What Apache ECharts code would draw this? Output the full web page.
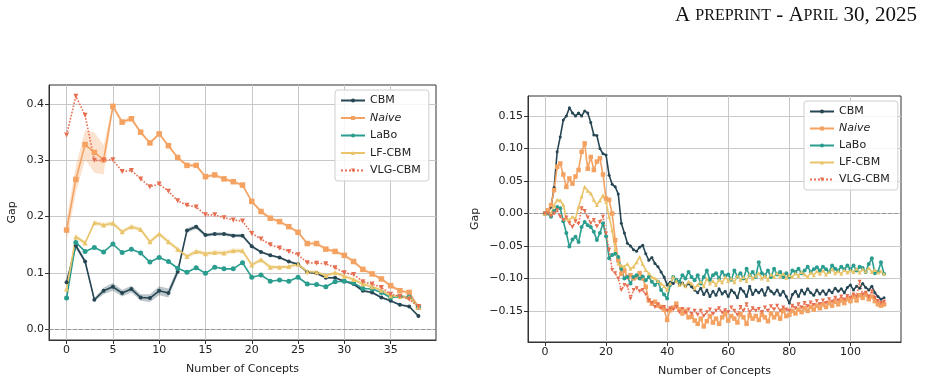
<!DOCTYPE html>
<html>
<head>
<meta charset="utf-8">
<script src="https://cdn.jsdelivr.net/npm/echarts@6/dist/echarts.min.js"></script>
<style>
html, body { margin: 0; padding: 0; background: #fff; }
#chart { width: 929px; height: 384px; }
</style>
</head>
<body>
<div id="chart"></div>
<script>
// ---- left panel: gap vs number of concepts (0..38) ----
var leftConcepts = Array.from({length: 39}, function (_, i) { return i; });
var leftCBM = [0.083, 0.148, 0.120, 0.052, 0.068, 0.075, 0.064, 0.071, 0.056, 0.055,
  0.068, 0.064, 0.102, 0.175, 0.182, 0.167, 0.169, 0.169, 0.166, 0.166,
  0.147, 0.137, 0.131, 0.127, 0.120, 0.115, 0.101, 0.099, 0.091, 0.091,
  0.085, 0.080, 0.068, 0.065, 0.056, 0.050, 0.043, 0.040, 0.023];
var leftNaive = [0.176, 0.266, 0.328, 0.314, 0.301, 0.396, 0.368, 0.374, 0.350, 0.331,
  0.347, 0.326, 0.305, 0.291, 0.291, 0.271, 0.274, 0.267, 0.262, 0.256,
  0.227, 0.209, 0.197, 0.191, 0.182, 0.172, 0.152, 0.152, 0.142, 0.138,
  0.131, 0.120, 0.106, 0.098, 0.089, 0.077, 0.068, 0.065, 0.039];
var leftLaBo = [0.055, 0.154, 0.138, 0.145, 0.137, 0.151, 0.136, 0.142, 0.135, 0.119,
  0.127, 0.120, 0.108, 0.101, 0.109, 0.099, 0.110, 0.107, 0.107, 0.118,
  0.092, 0.096, 0.085, 0.087, 0.085, 0.092, 0.080, 0.079, 0.075, 0.084,
  0.085, 0.082, 0.072, 0.071, 0.065, 0.056, 0.058, 0.057, 0.039];
var leftLFCBM = [0.071, 0.164, 0.153, 0.189, 0.185, 0.188, 0.173, 0.182, 0.177, 0.155,
  0.169, 0.155, 0.142, 0.129, 0.138, 0.134, 0.136, 0.135, 0.139, 0.139,
  0.114, 0.123, 0.110, 0.110, 0.111, 0.115, 0.102, 0.101, 0.095, 0.100,
  0.094, 0.088, 0.080, 0.075, 0.069, 0.059, 0.058, 0.056, 0.040];
var leftVLG = [0.345, 0.414, 0.380, 0.300, 0.300, 0.301, 0.280, 0.282, 0.267, 0.253,
  0.258, 0.245, 0.228, 0.220, 0.217, 0.203, 0.203, 0.198, 0.194, 0.192,
  0.170, 0.160, 0.150, 0.144, 0.138, 0.132, 0.118, 0.117, 0.116, 0.109,
  0.100, 0.097, 0.084, 0.080, 0.074, 0.062, 0.058, 0.053, 0.040];
// spread of the shaded bands
var leftCBMSd = [0.002, 0.005, 0.004, 0.003, 0.006, 0.007, 0.006, 0.006, 0.006, 0.007,
  0.008, 0.008, 0.006, 0.004, 0.004, 0.003, 0.003, 0.003, 0.003, 0.003,
  0.003, 0.002, 0.002, 0.002, 0.002, 0.002, 0.002, 0.002, 0.002, 0.002,
  0.002, 0.002, 0.002, 0.002, 0.002, 0.002, 0.002, 0.002, 0.002];
var leftNaiveSd = [0.020, 0.024, 0.026, 0.036, 0.026, 0.005, 0.004, 0.004, 0.003, 0.003,
  0.003, 0.003, 0.003, 0.003, 0.003, 0.003, 0.003, 0.003, 0.003, 0.003,
  0.003, 0.003, 0.003, 0.003, 0.003, 0.003, 0.003, 0.003, 0.003, 0.003,
  0.003, 0.003, 0.003, 0.003, 0.003, 0.003, 0.003, 0.003, 0.003];
var leftLFCBMSd = [0.004, 0.004, 0.004, 0.004, 0.004, 0.004, 0.004, 0.004, 0.004, 0.004,
  0.004, 0.004, 0.004, 0.004, 0.004, 0.004, 0.004, 0.004, 0.004, 0.004,
  0.004, 0.004, 0.004, 0.003, 0.003, 0.003, 0.003, 0.003, 0.003, 0.003,
  0.003, 0.003, 0.003, 0.003, 0.003, 0.003, 0.003, 0.003, 0.003];
var leftXTicks = [0, 5, 10, 15, 20, 25, 30, 35];
var leftYTicks = [0, 0.1, 0.2, 0.3, 0.4];

// ---- right panel: gap vs number of concepts (0..111) ----
var rightConcepts = Array.from({length: 112}, function (_, i) { return i; });
var rightCBM = [0.000, 0.002, 0.010, 0.040, 0.095, 0.118, 0.144, 0.150, 0.163, 0.155,
  0.150, 0.155, 0.150, 0.158, 0.155, 0.140, 0.121, 0.120, 0.100, 0.092,
  0.090, 0.059, 0.045, 0.041, 0.030, -0.015, -0.030, -0.046, -0.050, -0.056,
  -0.058, -0.052, -0.049, -0.062, -0.072, -0.068, -0.077, -0.082, -0.090, -0.098,
  -0.110, -0.106, -0.108, -0.103, -0.110, -0.107, -0.112, -0.108, -0.113, -0.118,
  -0.122, -0.115, -0.125, -0.118, -0.128, -0.120, -0.126, -0.116, -0.124, -0.120,
  -0.128, -0.118, -0.122, -0.130, -0.115, -0.120, -0.128, -0.112, -0.125, -0.118,
  -0.122, -0.117, -0.126, -0.114, -0.120, -0.124, -0.118, -0.126, -0.120, -0.128,
  -0.138, -0.125, -0.120, -0.128, -0.118, -0.124, -0.116, -0.122, -0.126, -0.118,
  -0.124, -0.119, -0.125, -0.118, -0.122, -0.115, -0.120, -0.116, -0.122, -0.114,
  -0.110, -0.118, -0.112, -0.115, -0.108, -0.114, -0.118, -0.112, -0.122, -0.128,
  -0.132, -0.130];
var rightNaive = [0.000, 0.005, 0.013, 0.036, 0.072, 0.077, 0.060, 0.041, 0.054, 0.046,
  0.057, 0.067, 0.095, 0.108, 0.069, 0.087, 0.067, 0.080, 0.085, 0.060,
  0.023, 0.021, 0.000, -0.041, -0.072, -0.093, -0.088, -0.098, -0.095, -0.100,
  -0.098, -0.092, -0.100, -0.113, -0.134, -0.139, -0.136, -0.142, -0.144, -0.148,
  -0.164, -0.149, -0.145, -0.139, -0.148, -0.154, -0.150, -0.160, -0.159, -0.165,
  -0.170, -0.162, -0.174, -0.166, -0.158, -0.168, -0.162, -0.170, -0.160, -0.155,
  -0.165, -0.158, -0.162, -0.168, -0.155, -0.160, -0.170, -0.157, -0.162, -0.158,
  -0.164, -0.156, -0.160, -0.166, -0.154, -0.160, -0.155, -0.162, -0.150, -0.158,
  -0.156, -0.150, -0.154, -0.148, -0.152, -0.146, -0.150, -0.144, -0.148, -0.142,
  -0.146, -0.140, -0.144, -0.138, -0.142, -0.136, -0.140, -0.134, -0.138, -0.132,
  -0.135, -0.128, -0.134, -0.126, -0.130, -0.125, -0.132, -0.128, -0.135, -0.140,
  -0.142, -0.140];
var rightLaBo = [0.000, 0.000, -0.005, 0.004, 0.010, 0.008, -0.012, -0.030, -0.051, -0.040,
  -0.036, -0.044, -0.021, -0.013, -0.018, -0.021, -0.028, -0.041, -0.030, -0.015,
  -0.035, -0.069, -0.064, -0.062, -0.067, -0.085, -0.100, -0.098, -0.108, -0.098,
  -0.095, -0.100, -0.097, -0.103, -0.098, -0.105, -0.110, -0.105, -0.118, -0.125,
  -0.131, -0.110, -0.098, -0.102, -0.105, -0.095, -0.100, -0.090, -0.098, -0.103,
  -0.095, -0.108, -0.098, -0.088, -0.102, -0.095, -0.092, -0.100, -0.090, -0.096,
  -0.094, -0.102, -0.088, -0.097, -0.092, -0.100, -0.085, -0.095, -0.090, -0.098,
  -0.075, -0.092, -0.095, -0.088, -0.098, -0.085, -0.094, -0.090, -0.098, -0.092,
  -0.098, -0.088, -0.090, -0.085, -0.092, -0.088, -0.082, -0.090, -0.086, -0.083,
  -0.088, -0.082, -0.086, -0.090, -0.080, -0.085, -0.088, -0.082, -0.086, -0.080,
  -0.086, -0.080, -0.088, -0.082, -0.084, -0.090, -0.078, -0.069, -0.092, -0.090,
  -0.075, -0.093];
var rightLFCBM = [0.000, 0.003, 0.000, 0.012, 0.021, 0.020, 0.013, -0.008, -0.010, -0.005,
  -0.008, 0.010, 0.026, 0.041, 0.035, 0.031, 0.021, 0.013, 0.020, 0.028,
  0.018, -0.005, -0.026, -0.056, -0.077, -0.080, -0.082, -0.078, -0.085, -0.082,
  -0.075, -0.067, -0.078, -0.087, -0.092, -0.098, -0.100, -0.104, -0.108, -0.112,
  -0.118, -0.108, -0.098, -0.104, -0.110, -0.108, -0.112, -0.105, -0.108, -0.115,
  -0.110, -0.105, -0.112, -0.100, -0.108, -0.104, -0.110, -0.102, -0.106, -0.098,
  -0.104, -0.100, -0.106, -0.096, -0.102, -0.098, -0.104, -0.094, -0.100, -0.096,
  -0.092, -0.100, -0.096, -0.102, -0.094, -0.098, -0.092, -0.097, -0.093, -0.099,
  -0.095, -0.098, -0.092, -0.096, -0.090, -0.094, -0.098, -0.091, -0.095, -0.089,
  -0.093, -0.088, -0.094, -0.090, -0.086, -0.092, -0.089, -0.093, -0.087, -0.091,
  -0.088, -0.090, -0.085, -0.091, -0.086, -0.089, -0.084, -0.090, -0.087, -0.091,
  -0.089, -0.093];
var rightVLG = [0.000, 0.000, -0.004, 0.000, 0.005, -0.005, -0.010, -0.006, -0.015, -0.021,
  -0.012, -0.016, 0.008, 0.004, -0.006, -0.015, -0.010, -0.020, -0.013, -0.005,
  -0.031, -0.056, -0.087, -0.092, -0.100, -0.118, -0.110, -0.112, -0.131, -0.118,
  -0.115, -0.120, -0.118, -0.125, -0.134, -0.138, -0.144, -0.140, -0.146, -0.144,
  -0.150, -0.146, -0.148, -0.144, -0.152, -0.147, -0.153, -0.148, -0.155, -0.150,
  -0.156, -0.150, -0.158, -0.152, -0.148, -0.155, -0.150, -0.146, -0.153, -0.149,
  -0.152, -0.145, -0.150, -0.156, -0.144, -0.150, -0.140, -0.152, -0.146, -0.150,
  -0.147, -0.152, -0.145, -0.150, -0.143, -0.148, -0.142, -0.150, -0.145, -0.148,
  -0.150, -0.142, -0.146, -0.140, -0.145, -0.138, -0.143, -0.137, -0.141, -0.135,
  -0.140, -0.134, -0.138, -0.132, -0.136, -0.130, -0.134, -0.128, -0.133, -0.127,
  -0.130, -0.125, -0.128, -0.105, -0.125, -0.122, -0.128, -0.120, -0.130, -0.135,
  -0.138, -0.136];
var rightXTicks = [0, 20, 40, 60, 80, 100];
var rightYTicks = [-0.15, -0.10, -0.05, 0, 0.05, 0.10, 0.15];

var methods = ['CBM', 'Naive', 'LaBo', 'LF-CBM', 'VLG-CBM'];
var colors = {'CBM': '#264653', 'Naive': '#f4a261', 'LaBo': '#2a9d8f', 'LF-CBM': '#e9c46a', 'VLG-CBM': '#e76f51'};
var symbols = {'CBM': 'circle', 'Naive': 'rect', 'LaBo': 'circle', 'LF-CBM': 'triangle', 'VLG-CBM': 'triangle'};

var font = 'DejaVu Sans';

function pairs(xs, ys) {
  return xs.map(function (x, i) { return [x, ys[i]]; });
}

function lineSeries(name, xs, ys, gi, symSize) {
  var dotted = name === 'VLG-CBM';
  var size = symSize;
  if (name === 'CBM') size = symSize - 1;
  if (name === 'Naive') size = symSize + 0.5;
  return {
    type: 'line', name: name, xAxisIndex: gi, yAxisIndex: gi,
    data: pairs(xs, ys),
    symbol: symbols[name], symbolSize: size,
    symbolRotate: dotted ? 180 : 0,
    color: colors[name],
    lineStyle: {width: 1.6, type: dotted ? 'dotted' : 'solid', color: colors[name]},
    itemStyle: {color: colors[name]},
    z: 5, silent: true
  };
}

// shaded band drawn as one polygon through the axis scales
function bandSeries(key, xs, ys, sd, gi) {
  return {
    type: 'custom', name: key + '-band', xAxisIndex: gi, yAxisIndex: gi, silent: true, z: 2,
    data: pairs(xs, ys),
    renderItem: function (params, api) {
      if (params.dataIndex !== 0) return null;
      var upper = xs.map(function (x, i) { return api.coord([x, ys[i] + sd[i]]); });
      var lower = xs.map(function (x, i) { return api.coord([x, ys[i] - sd[i]]); }).reverse();
      return {
        type: 'polygon',
        shape: {points: upper.concat(lower)},
        style: {fill: colors[key], opacity: 0.3}
      };
    }
  };
}

function zeroLine(gi) {
  return {type: 'line', name: 'zero' + gi, xAxisIndex: gi, yAxisIndex: gi, data: [], silent: true, z: 1,
    markLine: {silent: true, symbol: 'none', label: {show: false}, animation: false,
      lineStyle: {color: '#8a8a8a', type: [4, 2], width: 0.8}, data: [{yAxis: 0}]}};
}

function fmtRight(v) {
  if (Math.abs(v) < 1e-9) return '0.00';
  return (v < 0 ? '\u2212' : '') + Math.abs(v).toFixed(2);
}

function xAxis(gi, min, max, ticks) {
  return {
    type: 'value', gridIndex: gi, min: min, max: max,
    name: 'Number of Concepts', nameLocation: 'middle', nameGap: 24,
    nameTextStyle: {fontFamily: font, fontSize: 11, color: '#222'},
    axisLine: {show: true, onZero: false, lineStyle: {color: '#333', width: 1}},
    axisTick: {show: true, length: 4, customValues: ticks, lineStyle: {color: '#333'}},
    axisLabel: {customValues: ticks, fontFamily: font, fontSize: 11, color: '#222', margin: 5},
    splitLine: {show: true, lineStyle: {color: '#c8c8c8', width: 1}}
  };
}

function yAxis(gi, min, max, ticks, fmt, gap) {
  return {
    type: 'value', gridIndex: gi, min: min, max: max,
    name: 'Gap', nameLocation: 'middle', nameGap: gap,
    nameTextStyle: {fontFamily: font, fontSize: 11, color: '#222'},
    axisLine: {show: true, onZero: false, lineStyle: {color: '#333', width: 1}},
    axisTick: {show: true, length: 4, customValues: ticks, lineStyle: {color: '#333'}},
    axisLabel: {customValues: ticks, formatter: fmt, fontFamily: font, fontSize: 11, color: '#222', margin: 5},
    splitLine: {show: true, lineStyle: {color: '#c8c8c8', width: 1}}
  };
}

function legend(left, top, gap) {
  return {
    left: left, top: top, orient: 'vertical',
    data: methods.map(function (m) {
      return m === 'Naive' ? {name: m, textStyle: {fontStyle: 'italic'}} : {name: m};
    }),
    itemWidth: 24, itemHeight: 5, itemGap: gap,
    textStyle: {fontFamily: font, fontSize: 11, color: '#222'},
    backgroundColor: 'rgba(255,255,255,0.85)', borderColor: '#cfcfcf', borderWidth: 1,
    borderRadius: 3, padding: [5, 8, 5, 5], selectedMode: false
  };
}

var series = [];
series.push(zeroLine(0), zeroLine(1));
series.push(bandSeries('CBM', leftConcepts, leftCBM, leftCBMSd, 0));
series.push(bandSeries('Naive', leftConcepts, leftNaive, leftNaiveSd, 0));
series.push(bandSeries('LF-CBM', leftConcepts, leftLFCBM, leftLFCBMSd, 0));

var leftData = {'CBM': leftCBM, 'Naive': leftNaive, 'LaBo': leftLaBo, 'LF-CBM': leftLFCBM, 'VLG-CBM': leftVLG};
var rightData = {'CBM': rightCBM, 'Naive': rightNaive, 'LaBo': rightLaBo, 'LF-CBM': rightLFCBM, 'VLG-CBM': rightVLG};
methods.forEach(function (m) { series.push(lineSeries(m, leftConcepts, leftData[m], 0, 5)); });
methods.forEach(function (m) { series.push(lineSeries(m, rightConcepts, rightData[m], 1, 4)); });

var chart = echarts.init(document.getElementById('chart'), null, {renderer: 'canvas'});
chart.setOption({
  animation: false,
  backgroundColor: '#fff',
  title: {
    right: 7, top: 0,
    text: '{a|A }{b|PREPRINT}{a| - A}{b|PRIL}{a| 30, 2025}',
    textStyle: {
      rich: {
        a: {fontFamily: 'Liberation Serif', fontSize: 21, fontWeight: 'normal', color: '#111'},
        b: {fontFamily: 'Liberation Serif', fontSize: 16, fontWeight: 'normal', color: '#111'}
      }
    }
  },
  grid: [
    {left: 49, top: 85, width: 387, height: 255, show: true, borderColor: '#333', borderWidth: 1, backgroundColor: 'transparent'},
    {left: 528, top: 96, width: 373, height: 246, show: true, borderColor: '#333', borderWidth: 1, backgroundColor: 'transparent'}
  ],
  xAxis: [xAxis(0, -1.9, 39.9, leftXTicks), xAxis(1, -5.55, 116.55, rightXTicks)],
  yAxis: [
    yAxis(0, -0.0196, 0.434, leftYTicks, function (v) { return v.toFixed(1); }, 31),
    yAxis(1, -0.198, 0.181, rightYTicks, fmtRight, 47)
  ],
  legend: [legend(335, 90, 6.5), legend(804, 101, 6)],
  series: series
});
</script>
</body>
</html>
